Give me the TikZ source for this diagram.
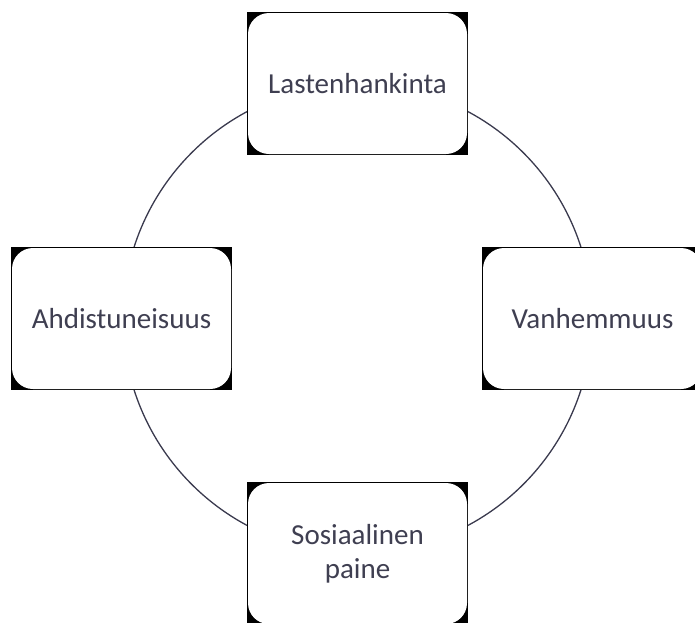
\documentclass[tikz,border=0pt]{standalone}
\usepackage{fontspec}
\setmainfont{Carlito}
\usetikzlibrary{backgrounds}
\definecolor{txt}{HTML}{3F3F51}
\definecolor{ring}{HTML}{3A3A4E}
\begin{document}
\begin{tikzpicture}[x=1pt,y=-1pt,
  box/.style={rectangle, rounded corners=21pt, fill=white, inner sep=0pt,
    minimum width=219pt, minimum height=141pt, align=center, text=txt,
    font=\fontsize{29}{34}\selectfont},
  ringline/.style={draw=ring, line width=1.3pt}]
\useasboundingbox (0,0) rectangle (695,622);
\coordinate (c) at (357.5,318.5);
\node[box] (top) at (357.5,83.5) {Lastenhankinta};
\node[box] (right) at (592.5,318.5) {Vanhemmuus};
\node[box] (bottom) at (357.5,553.5) {Sosiaalinen\\paine};
\node[box] (left) at (121.5,318.5) {Ahdistuneisuus};
\begin{scope}[on background layer]
  \draw[ringline] (c) circle[radius=234.5];
  \foreach \n in {top,right,bottom,left}{
    \fill[black] ([shift={(-1,1)}]\n.south west) rectangle ([shift={(1,-1)}]\n.north east);
  }
\end{scope}
\end{tikzpicture}
\end{document}
